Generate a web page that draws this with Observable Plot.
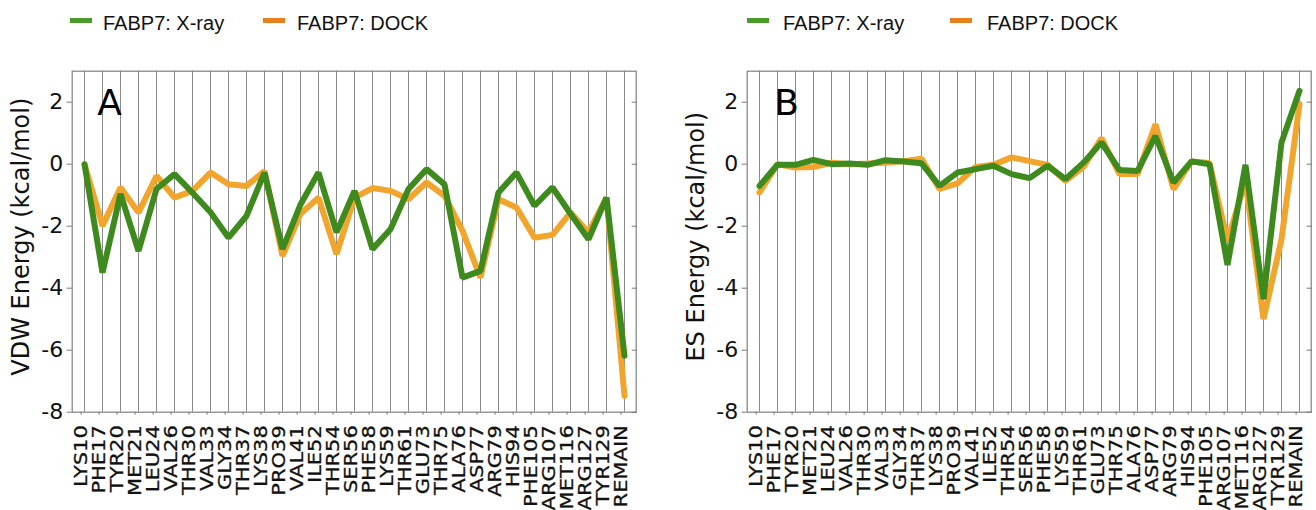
<!DOCTYPE html>
<html><head><meta charset="utf-8">
<script src="https://cdn.jsdelivr.net/npm/d3@7"></script>
<script src="https://cdn.jsdelivr.net/npm/@observablehq/plot@0.6"></script>
<style>
body{margin:0;background:#fff;width:1316px;height:510px;overflow:hidden;position:relative;font-family:"DejaVu Sans",sans-serif;}
.panel{position:absolute;top:0;height:510px;}
.legend{position:absolute;top:0;left:0;height:40px;width:100%;font-family:"Liberation Sans",Arial,sans-serif;font-size:20px;color:#111;}
.sw{position:absolute;top:18px;width:22px;height:5px;}
.lt{position:absolute;top:11px;line-height:24px;white-space:nowrap;}
svg.chart{position:absolute;top:40px;left:0;max-width:none !important;}
</style></head><body>
<div id="A" class="panel" style="left:0px;width:660px"></div>
<div id="B" class="panel" style="left:675px;width:641px"></div>
<script>
const residues = ["LYS10","PHE17","TYR20","MET21","LEU24","VAL26","THR30","VAL33","GLY34","THR37","LYS38","PRO39","VAL41","ILE52","THR54","SER56","PHE58","LYS59","THR61","GLU73","THR75","ALA76","ASP77","ARG79","HIS94","PHE105","ARG107","MET116","ARG127","TYR129","REMAIN"];
const seriesNames = ["FABP7: X-ray", "FABP7: DOCK"];
const vdwXray = [0.0,-3.5,-0.96,-2.8,-0.8,-0.32,-0.92,-1.55,-2.37,-1.67,-0.27,-2.74,-1.3,-0.27,-2.2,-0.86,-2.74,-2.1,-0.8,-0.16,-0.65,-3.66,-3.44,-0.91,-0.27,-1.34,-0.75,-1.6,-2.42,-1.08,-6.18];
const vdwDock = [0.0,-1.99,-0.75,-1.56,-0.38,-1.08,-0.86,-0.27,-0.65,-0.7,-0.22,-2.96,-1.6,-1.08,-2.9,-1.08,-0.77,-0.86,-1.13,-0.59,-1.02,-2.15,-3.66,-1.13,-1.4,-2.37,-2.28,-1.56,-2.2,-1.08,-7.47];
const esXray = [-0.7,-0.02,-0.02,0.14,0.0,0.02,-0.02,0.13,0.09,0.03,-0.7,-0.27,-0.16,-0.05,-0.32,-0.45,-0.05,-0.48,0.05,0.7,-0.19,-0.22,0.91,-0.59,0.09,0.0,-3.25,-0.02,-4.35,0.7,2.37];
const esDock = [-0.91,0.0,-0.11,-0.09,0.05,0.0,0.02,0.05,0.1,0.18,-0.8,-0.62,-0.09,-0.02,0.22,0.1,-0.02,-0.54,-0.09,0.84,-0.32,-0.32,1.29,-0.8,0.09,0.04,-2.47,-0.54,-5.0,-2.42,1.94];
const yTicks = [-8,-6,-4,-2,0,2];
const yDomain = [-8, 3];
const lineColors = ["#3f8a1f", "#f2a52d"];
const legendColors = ["#4a9a2c", "#e8801e"];

function rows(xray, dock) {
  return [
    ...dock.map((v,i)=>({res: residues[i], value: v, series: seriesNames[1]})),
    ...xray.map((v,i)=>({res: residues[i], value: v, series: seriesNames[0]}))
  ];
}

function makePanel(el, cfg) {
  const lg = document.createElement("div");
  lg.className = "legend";
  lg.innerHTML =
    `<div class="sw" style="left:${cfg.leg[0]}px;background:${legendColors[0]}"></div>` +
    `<div class="lt" style="left:${cfg.leg[1]}px">${seriesNames[0]}</div>` +
    `<div class="sw" style="left:${cfg.leg[2]}px;background:${legendColors[1]}"></div>` +
    `<div class="lt" style="left:${cfg.leg[3]}px">${seriesNames[1]}</div>`;
  el.appendChild(lg);
  const data = rows(cfg.xray, cfg.dock);
  const svg = Plot.plot({
    width: cfg.width, height: 470,
    marginLeft: 71.7, marginRight: cfg.width - 71.7 - 564, marginTop: 30.7, marginBottom: 98.3,
    style: {fontFamily: "DejaVu Sans", fontSize: "22px", color: "#111", background: "white", overflow: "visible"},
    x: {type: "point", domain: residues, padding: 0, label: null},
    y: {domain: yDomain, label: null},
    color: {domain: seriesNames, range: lineColors},
    marks: [
      Plot.ruleX(residues, {x: d=>d, stroke: "#8a8a8a", strokeWidth: 1}),
      Plot.frame({stroke: "#808080", strokeWidth: 1.2}),
      Plot.axisY({ticks: yTicks, tickFormat: d=>String(d), tickSize: 5, tickPadding: 4, fontSize: 22, stroke: "#777", label: null}),
      Plot.axisY({anchor: "right", ticks: yTicks, tickFormat: ()=>"", tickSize: 5, dx: -5, stroke: "#777", label: null}),
      Plot.axisX({tickRotate: -90, tickSize: 3, tickPadding: 10, fontSize: 21, dx: -3.4, stroke: "#777", label: null}),
      Plot.line(data, {x: "res", y: "value", z: "series", stroke: "series", strokeWidth: 6, strokeLinejoin: "miter", clip: true}),
      Plot.text([cfg.letter], {frameAnchor: "top-left", textAnchor: "start", lineAnchor: "top", dx: cfg.letterDx, dy: 18, fontSize: 36, fill: "#000"}),
      Plot.text([cfg.ylabel], {frameAnchor: "left", textAnchor: "middle", rotate: -90, dx: -51, dy: -5, fontSize: 24, fill: "#111", ariaLabel: "ylabel"})
    ]
  });
  svg.querySelectorAll('g[aria-label="x-axis tick label"] text').forEach(t=>{
    t.setAttribute("transform", (t.getAttribute("transform")||"") + " scale(1,0.88)");
    t.setAttribute("stroke", "#111");
    t.setAttribute("stroke-width", "0.35");
  });
  svg.querySelectorAll('g[aria-label="ylabel"] text').forEach(t=>{
    t.setAttribute("transform", (t.getAttribute("transform")||"") + " scale(1,0.85)");
  });
  svg.classList.add("chart");
  svg.style.position = "absolute"; svg.style.top = "40px"; svg.style.left = "0px";
  svg.style.width = cfg.width + "px"; svg.style.height = "470px"; svg.style.maxWidth = "none";
  el.appendChild(svg);
}

makePanel(document.getElementById("A"), {width: 660, xray: vdwXray, dock: vdwDock, letter: "A", letterDx: 25, ylabel: "VDW Energy (kcal/mol)", leg: [70, 103, 263, 297]});
makePanel(document.getElementById("B"), {width: 641, xray: esXray, dock: esDock, letter: "B", letterDx: 27, ylabel: "ES Energy (kcal/mol)", leg: [72, 108, 275, 312]});
</script>
</body></html>
